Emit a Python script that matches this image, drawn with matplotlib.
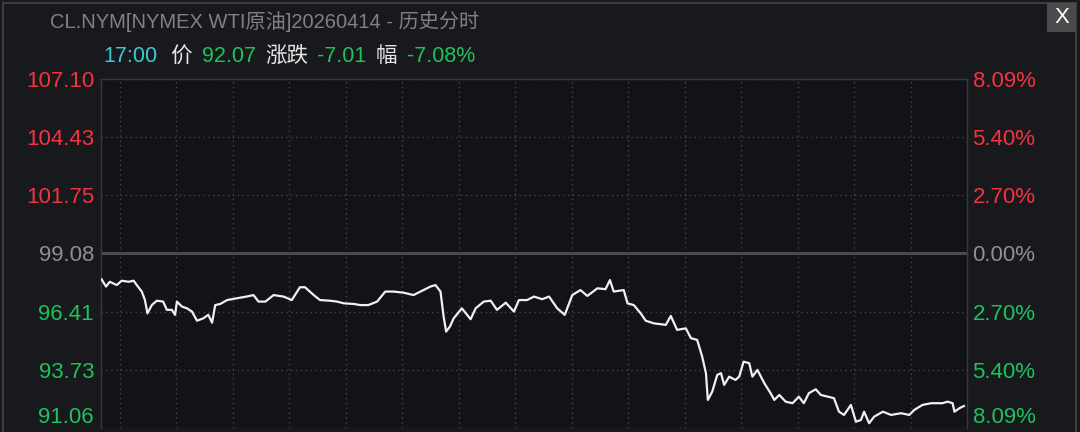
import matplotlib
matplotlib.use("Agg")
import matplotlib.pyplot as plt
from matplotlib.patches import Rectangle

FAMILY = ['Liberation Sans', 'Noto Sans CJK SC', 'DejaVu Sans']
plt.rcParams['font.family'] = FAMILY

# minutes since session open (18:00 ET) -> last point 17:00
minutes = [1, 8, 14, 25, 33, 44, 52, 57, 65, 70, 74, 81, 89, 99, 105, 113, 118, 121, 129, 137,
           145, 153, 163, 171, 177, 182, 190, 201, 216, 232, 243, 251, 262, 275, 291, 304, 317, 325, 339, 349,
           365, 376, 387, 403, 413, 426, 440, 453, 466, 482, 498, 514, 525, 533, 541, 546, 550, 556, 562, 575,
           589, 597, 610, 621, 631, 645, 658, 666, 679, 690, 703, 714, 727, 739, 751, 764, 775, 791, 804, 811,
           817, 833, 839, 849, 860, 868, 881, 900, 908, 918, 932, 940, 950, 958, 964, 967, 974, 982, 988, 993,
           1001, 1011, 1017, 1024, 1033, 1038, 1046, 1057, 1067, 1073, 1081, 1091, 1102, 1112, 1120, 1128, 1139, 1147, 1158, 1168,
           1176, 1184, 1195, 1203, 1211, 1216, 1224, 1232, 1246, 1259, 1275, 1288, 1296, 1309, 1323, 1341, 1349, 1357, 1360, 1368,
           1375]
prices = [97.89, 97.56, 97.78, 97.63, 97.83, 97.78, 97.83, 97.63, 97.33, 96.94, 96.33, 96.71, 96.91, 96.87, 96.49, 96.49, 96.26, 96.87, 96.64, 96.56,
          96.41, 95.99, 96.10, 96.26, 95.90, 96.71, 96.76, 96.94, 97.02, 97.10, 97.17, 96.87, 96.87, 97.17, 97.10, 96.94, 97.53, 97.53, 97.17, 96.94,
          96.91, 96.87, 96.79, 96.76, 96.71, 96.71, 96.87, 97.33, 97.33, 97.28, 97.17, 97.40, 97.56, 97.63, 97.33, 96.18, 95.49, 95.72, 96.10, 96.56,
          96.06, 96.56, 96.87, 96.91, 96.49, 96.82, 96.41, 96.94, 96.94, 97.10, 96.98, 97.10, 96.56, 96.26, 97.17, 97.40, 97.13, 97.48, 97.44, 97.86,
          97.33, 97.40, 96.79, 96.71, 96.33, 95.99, 95.87, 95.80, 96.21, 95.57, 95.64, 95.19, 95.11, 94.34, 93.58, 92.35, 92.73, 93.50, 93.58, 93.04,
          93.42, 93.27, 93.42, 94.11, 94.04, 93.42, 93.73, 93.12, 92.66, 92.35, 92.58, 92.27, 92.20, 92.50, 92.20, 92.66, 92.84, 92.58, 92.50, 92.43,
          91.81, 91.66, 92.12, 91.35, 91.43, 91.81, 91.28, 91.58, 91.81, 91.66, 91.74, 91.66, 91.89, 92.12, 92.20, 92.20, 92.27, 92.20, 91.81, 91.97,
          92.07]

prev_close = 99.08
price_ticks = [107.10, 104.43, 101.75, 99.08, 96.41, 93.73, 91.06]
price_labels = ['107.10', '104.43', '101.75', '99.08', '96.41', '93.73', '91.06']
pct_labels = ['8.09%', '5.40%', '2.70%', '0.00%', '2.70%', '5.40%', '8.09%']
vgrid = [30 + 90 * k for k in range(15)]
session_len = 1380

RED = '#f5333f'
GREEN = '#1ec25c'
GRAY = '#8e8e93'
CYAN = '#3ec8d2'

fig = plt.figure(figsize=(10.8, 4.32), dpi=100)
fig.patch.set_facecolor('#18191d')

# outer frame and close button
fig.add_artist(Rectangle((3 / 1080, -0.1), 1073 / 1080, 1.1 - 3 / 432, transform=fig.transFigure,
                         fill=False, edgecolor='#3c3d41', linewidth=1.5))
fig.add_artist(Rectangle((1047 / 1080, 1 - 32 / 432), 29 / 1080, 29 / 432, transform=fig.transFigure,
                         facecolor='#4b4b4e', edgecolor='none'))
fig.text(1061.5 / 1080, 1 - 17.5 / 432, 'X', color='white', fontsize=16, ha='center', va='center')

# header
fig.text(265 / 1080, 1 - 21 / 432, 'CL.NYM[NYMEX WTI原油]20260414 - 历史分时',
         color='#808085', fontsize=14.5, ha='center', va='center')
parts = [('17:00', CYAN, 103), ('价', '#e6e6e6', 170), ('92.07', GREEN, 202), ('涨跌', '#e6e6e6', 265),
         ('-7.01', GREEN, 317), ('幅', '#e6e6e6', 376), ('-7.08%', GREEN, 407)]
for txt, col, xpx in parts:
    fig.text(xpx / 1080, 1 - 57 / 432, txt, color=col, fontsize=15.5, ha='left', va='center')

ax = fig.add_axes([101 / 1080, 4 / 432, 866 / 1080, (428 - 79) / 432])
ax.set_facecolor('#121317')
ax.plot(minutes, prices, color='#f0f0f0', linewidth=1.6, zorder=3)
ax.axhline(prev_close, color='#4a4a4f', linewidth=2.2, zorder=2)

ax.set_xlim(0, session_len)
ax.set_ylim(price_ticks[-1], price_ticks[0])
ax.set_xticks(vgrid)
ax.set_xticklabels([])
ax.set_yticks(price_ticks)
ax.set_yticklabels(price_labels, fontfamily='Liberation Sans')
ax.tick_params(length=0, labelsize=16, pad=5)
ax.grid(True, color='#45464b', linestyle=(0, (1, 2.5)), linewidth=1)
for s in ['left', 'right', 'top']:
    ax.spines[s].set_color('#38393d')
    ax.spines[s].set_linewidth(1)
ax.spines['bottom'].set_visible(False)

ax2 = ax.twinx()
ax2.set_ylim(ax.get_ylim())
ax2.set_yticks(price_ticks)
ax2.set_yticklabels(pct_labels, fontfamily='Liberation Sans')
ax2.tick_params(length=0, labelsize=16, pad=4)
for s in ax2.spines.values():
    s.set_visible(False)

for axis_labels in (ax.get_yticklabels(), ax2.get_yticklabels()):
    for lab, val in zip(axis_labels, price_ticks):
        if val > prev_close:
            lab.set_color(RED)
        elif val < prev_close:
            lab.set_color(GREEN)
        else:
            lab.set_color(GRAY)
    axis_labels[-1].set_va('bottom')

plt.savefig('out.png', dpi=100, facecolor=fig.get_facecolor())
